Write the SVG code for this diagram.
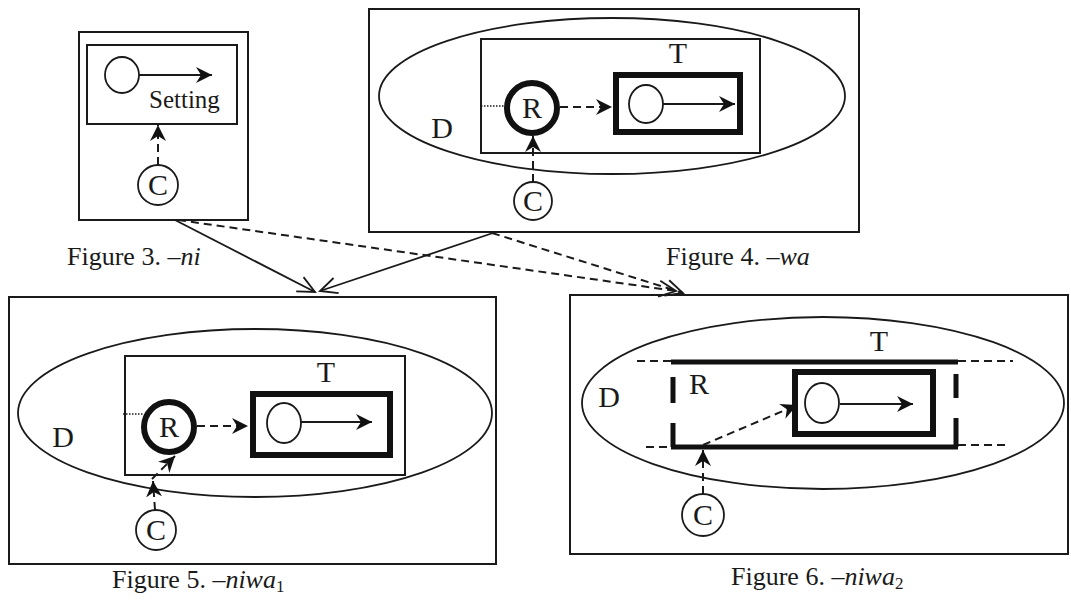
<svg xmlns="http://www.w3.org/2000/svg" width="1071" height="608" viewBox="0 0 1071 608">
<style>
.box{fill:none;stroke:#1a1a1a;stroke-width:2}
.thin{fill:none;stroke:#1a1a1a;stroke-width:1.8}
.thick{fill:none;stroke:#111;stroke-width:6}
.bar{fill:none;stroke:#111;stroke-width:5}
.solid{fill:none;stroke:#1a1a1a;stroke-width:1.8}
.dash{fill:none;stroke:#1a1a1a;stroke-width:2;stroke-dasharray:8 5}
.dot{fill:none;stroke:#1a1a1a;stroke-width:1.5;stroke-dasharray:1.5 1.5}
.lbl{font-family:"Liberation Serif","Times New Roman",serif;font-size:30px;fill:#1a1a1a;text-anchor:middle}
.set{font-family:"Liberation Serif","Times New Roman",serif;font-size:25px;fill:#1a1a1a}
.cap{font-family:"Liberation Serif","Times New Roman",serif;font-size:26px;fill:#1a1a1a}
</style>
<defs>
<marker id="fa" markerUnits="userSpaceOnUse" markerWidth="18" markerHeight="16" refX="16" refY="8" orient="auto">
<path d="M0,0 L16,8 L0,16 L5,8 z" fill="#111"/>
</marker>
<marker id="va" markerUnits="userSpaceOnUse" markerWidth="22" markerHeight="22" refX="19" refY="11" orient="auto">
<path d="M2,3 L19,11 L2,19" fill="none" stroke="#1a1a1a" stroke-width="1.8"/>
</marker>
</defs>

<g id="fig3">
<rect class="box" x="79" y="32" width="169" height="188"/>
<rect class="box" x="87" y="45" width="150" height="79"/>
<ellipse class="thin" cx="122" cy="75" rx="17" ry="18"/>
<line class="solid" x1="139" y1="75" x2="212" y2="75" marker-end="url(#fa)"/>
<text class="set" x="149" y="108">Setting</text>
<circle class="thin" cx="158" cy="185" r="20"/>
<text class="lbl" x="158" y="195">C</text>
<line class="dash" x1="158" y1="165" x2="158" y2="125" marker-end="url(#fa)"/>
<text class="cap" x="67" y="265">Figure 3. <tspan font-style="italic">–ni</tspan></text>
</g>

<g id="fig4">
<rect class="box" x="369" y="9" width="490" height="223"/>
<ellipse class="thin" cx="612" cy="96" rx="233" ry="78"/>
<rect class="box" x="481" y="39" width="279" height="114"/>
<text class="lbl" x="678" y="63">T</text>
<rect class="thick" x="616" y="75" width="124" height="57"/>
<ellipse class="thin" cx="646" cy="104" rx="17" ry="19"/>
<line class="solid" x1="663" y1="104" x2="735" y2="104" marker-end="url(#fa)"/>
<circle class="thick" cx="532" cy="108" r="25"/>
<text class="lbl" x="532" y="118">R</text>
<line class="dot" x1="481" y1="106" x2="506" y2="106"/>
<line class="dash" x1="560" y1="107" x2="612" y2="107" marker-end="url(#fa)"/>
<text class="lbl" x="442" y="138">D</text>
<circle class="thin" cx="533" cy="201" r="19"/>
<text class="lbl" x="533" y="211">C</text>
<line class="dash" x1="533" y1="182" x2="533" y2="136" marker-end="url(#fa)"/>
<text class="cap" x="666" y="265">Figure 4. <tspan font-style="italic">–wa</tspan></text>
</g>

<g id="fig5">
<rect class="box" x="9" y="297" width="487" height="267"/>
<ellipse class="thin" cx="255" cy="413" rx="237" ry="84"/>
<rect class="box" x="125" y="356" width="280" height="119"/>
<text class="lbl" x="326" y="382">T</text>
<rect class="thick" x="253" y="394" width="137" height="61"/>
<ellipse class="thin" cx="284" cy="423" rx="17" ry="20"/>
<line class="solid" x1="301" y1="422" x2="372" y2="422" marker-end="url(#fa)"/>
<circle class="thick" cx="169" cy="427" r="25"/>
<text class="lbl" x="169" y="437">R</text>
<line class="dot" x1="123" y1="414" x2="144" y2="414"/>
<line class="dash" x1="197" y1="426" x2="248" y2="426" marker-end="url(#fa)"/>
<text class="lbl" x="63" y="447">D</text>
<circle class="thin" cx="156" cy="530" r="20"/>
<text class="lbl" x="156" y="540">C</text>
<line class="dash" x1="155" y1="510" x2="153" y2="481" marker-end="url(#fa)"/>
<line class="dash" x1="152" y1="479" x2="175" y2="456" marker-end="url(#fa)"/>
<text class="cap" x="112" y="588">Figure 5. <tspan font-style="italic">–niwa</tspan><tspan font-size="17" dy="4">1</tspan></text>
</g>

<g id="fig6">
<rect class="box" x="570" y="295" width="498" height="259"/>
<ellipse class="thin" cx="823" cy="403" rx="241" ry="86"/>
<text class="lbl" x="879" y="351">T</text>
<line class="bar" x1="671" y1="362" x2="958" y2="362"/>
<line class="bar" x1="671" y1="447" x2="958" y2="447"/>
<line class="bar" x1="673" y1="377" x2="673" y2="403"/>
<line class="bar" x1="673" y1="423" x2="673" y2="447"/>
<line class="bar" x1="956" y1="374" x2="956" y2="398"/>
<line class="bar" x1="956" y1="418" x2="956" y2="447"/>
<line class="dash" x1="637" y1="361" x2="671" y2="361"/>
<line class="dash" x1="958" y1="361" x2="1013" y2="361"/>
<line class="dash" x1="646" y1="447" x2="671" y2="447"/>
<line class="dash" x1="958" y1="445" x2="1010" y2="445"/>
<text class="lbl" x="699" y="394">R</text>
<text class="lbl" x="609" y="407">D</text>
<rect class="thick" x="795" y="372" width="138" height="62"/>
<ellipse class="thin" cx="822" cy="403" rx="17" ry="20"/>
<line class="solid" x1="840" y1="404" x2="913" y2="404" marker-end="url(#fa)"/>
<line class="dash" x1="703" y1="445" x2="797" y2="405" marker-end="url(#fa)"/>
<circle class="thin" cx="703" cy="515" r="21"/>
<text class="lbl" x="703" y="525">C</text>
<line class="dash" x1="703" y1="494" x2="703" y2="450" marker-end="url(#fa)"/>
<text class="cap" x="731" y="585">Figure 6. <tspan font-style="italic">–niwa</tspan><tspan font-size="17" dy="4">2</tspan></text>
</g>

<g id="connectors">
<line class="solid" x1="175" y1="220" x2="315" y2="292" marker-end="url(#va)"/>
<line class="solid" x1="493" y1="233" x2="320" y2="291" marker-end="url(#va)"/>
<line class="dash" x1="178" y1="220" x2="676" y2="291" marker-end="url(#va)"/>
<line class="dash" x1="492" y1="233" x2="683" y2="293" marker-end="url(#va)"/>
</g>
</svg>
